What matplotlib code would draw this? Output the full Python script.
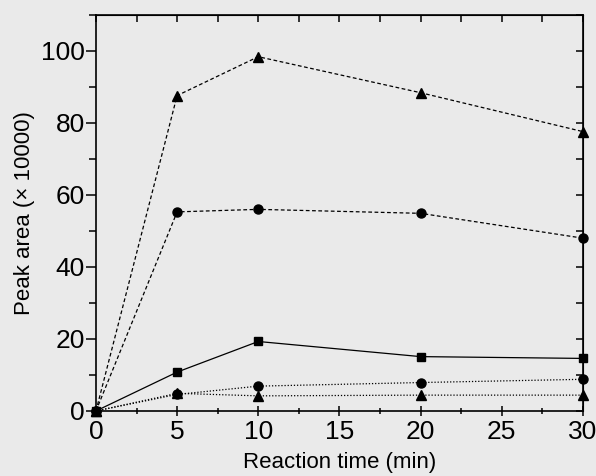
import matplotlib
matplotlib.use('Agg')
import matplotlib.pyplot as plt
from matplotlib.ticker import MultipleLocator

plt.rcParams['font.family'] = ['Liberation Sans', 'DejaVu Sans']

# reaction time (min)
time = [0, 5, 10, 20, 30]

# peak areas (x 10000)
tri_high = [0, 87.6, 98.4, 88.4, 77.6]
circ_high = [0, 55.3, 56.0, 54.9, 48.0]
square = [0, 10.8, 19.3, 15.1, 14.6]
circ_low = [0, 4.6, 6.9, 7.9, 8.8]
tri_low = [0, 4.9, 4.2, 4.4, 4.4]

bg = '#eaeaea'
fig = plt.figure(figsize=(5.96, 4.76), dpi=100, facecolor=bg)
ax = fig.add_axes([0.161, 0.1366, 0.817, 0.832], facecolor=bg)

dash = (0, (3, 2))
dot = (0, (1, 1.5))
ax.plot(time, tri_high, color='k', ls=dash, lw=0.9, marker='^', ms=7, clip_on=False, zorder=3)
ax.plot(time, circ_high, color='k', ls=dash, lw=0.9, marker='o', ms=6.5, clip_on=False, zorder=3)
ax.plot(time, square, color='k', ls='-', lw=0.9, marker='s', ms=6, clip_on=False, zorder=3)
ax.plot(time, circ_low, color='k', ls=dot, lw=0.9, marker='o', ms=6.5, clip_on=False, zorder=3)
ax.plot(time, tri_low, color='k', ls=dot, lw=0.9, marker='^', ms=7, clip_on=False, zorder=3)

ax.set_xlim(0, 30)
ax.set_ylim(0, 110)
ax.xaxis.set_major_locator(MultipleLocator(5))
ax.xaxis.set_minor_locator(MultipleLocator(2.5))
ax.yaxis.set_major_locator(MultipleLocator(20))
ax.yaxis.set_minor_locator(MultipleLocator(10))

for s in ax.spines.values():
    s.set_linewidth(1.2)

ax.tick_params(which='both', direction='inout', labelsize=19, width=1.1, pad=3)
ax.tick_params(axis='y', which='both', direction='out', pad=1)
ax.tick_params(which='major', length=7)
ax.tick_params(which='minor', length=5)

# top and right ticks point inward only
top = ax.secondary_xaxis('top')
top.xaxis.set_major_locator(MultipleLocator(2.5))
top.tick_params(direction='in', length=5, width=1.1, labeltop=False)
right = ax.secondary_yaxis('right')
right.yaxis.set_major_locator(MultipleLocator(10))
right.tick_params(direction='in', length=5, width=1.1, labelright=False)

ax.set_xlabel('Reaction time (min)', fontsize=16, labelpad=6)
ax.set_ylabel('Peak area (\u00d7 10000)', fontsize=16, labelpad=4)

fig.savefig('out.png', dpi=100, facecolor=bg)
